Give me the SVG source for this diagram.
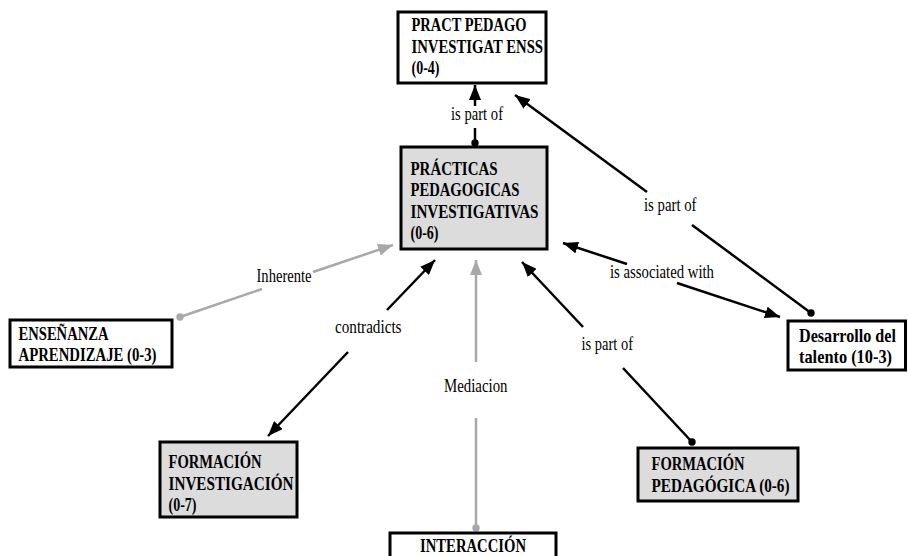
<svg xmlns="http://www.w3.org/2000/svg" width="908" height="556" viewBox="0 0 908 556">
  <style>
    .box { stroke: #000; stroke-width: 3; }
    .plain { fill: #ffffff; }
    .shade { fill: #dcdcdc; }
    .nt { font-weight: bold; font-size: 19px; fill: #000; }
    .lt { font-size: 18px; fill: #000; }
    .blk { stroke: #000; stroke-width: 2.5; fill: none; }
    .gry { stroke: #a8a8a8; stroke-width: 2.5; fill: none; }
  </style>
  <defs>
    <marker id="arrowBlk" markerUnits="userSpaceOnUse" markerWidth="16" markerHeight="12" viewBox="0 0 16 12" refX="15" refY="6" orient="auto">
      <path d="M0,0 L15,6 L0,12 Z" fill="#000"/>
    </marker>
    <marker id="arrowGry" markerUnits="userSpaceOnUse" markerWidth="16" markerHeight="12" viewBox="0 0 16 12" refX="15" refY="6" orient="auto">
      <path d="M0,0 L15,6 L0,12 Z" fill="#a8a8a8"/>
    </marker>
    <marker id="dotBlk" markerUnits="userSpaceOnUse" markerWidth="8" markerHeight="8" viewBox="0 0 8 8" refX="4" refY="4">
      <circle cx="4" cy="4" r="3.7" fill="#000"/>
    </marker>
    <marker id="dotGry" markerUnits="userSpaceOnUse" markerWidth="8" markerHeight="8" viewBox="0 0 8 8" refX="4" refY="4">
      <circle cx="4" cy="4" r="3.7" fill="#a8a8a8"/>
    </marker>
  </defs>
  <rect width="908" height="556" fill="#ffffff"/>

  <g font-family="'Liberation Serif', 'Times New Roman', serif">
  <!-- connectors -->
  <g id="connectors">
    <!-- PRÁCTICAS is part of PRACT PEDAGO -->
    <line class="blk" x1="475" y1="143" x2="475" y2="128" marker-start="url(#dotBlk)"/>
    <line class="blk" x1="475" y1="106" x2="475" y2="85" marker-end="url(#arrowBlk)"/>
    <text class="lt" x="451" y="120" textLength="52" lengthAdjust="spacingAndGlyphs">is part of</text>

    <!-- Desarrollo is part of PRACT PEDAGO -->
    <line class="blk" x1="811" y1="313" x2="692" y2="225" marker-start="url(#dotBlk)"/>
    <line class="blk" x1="647" y1="192" x2="515" y2="95" marker-end="url(#arrowBlk)"/>
    <text class="lt" x="644" y="210.5" textLength="52.5" lengthAdjust="spacingAndGlyphs">is part of</text>

    <!-- is associated with (both ways) -->
    <line class="blk" x1="627" y1="264" x2="563" y2="243" marker-end="url(#arrowBlk)"/>
    <line class="blk" x1="677" y1="283" x2="780" y2="317" marker-end="url(#arrowBlk)"/>
    <text class="lt" x="610" y="278" textLength="104" lengthAdjust="spacingAndGlyphs">is associated with</text>

    <!-- FORMACIÓN PEDAGÓGICA is part of PRÁCTICAS -->
    <line class="blk" x1="692" y1="442" x2="623" y2="368" marker-start="url(#dotBlk)"/>
    <line class="blk" x1="583" y1="327" x2="522" y2="262" marker-end="url(#arrowBlk)"/>
    <text class="lt" x="581.5" y="350" textLength="51.5" lengthAdjust="spacingAndGlyphs">is part of</text>

    <!-- INTERACCIÓN Mediacion -->
    <line class="gry" x1="476" y1="528" x2="476" y2="418" marker-start="url(#dotGry)"/>
    <line class="gry" x1="476" y1="362" x2="476" y2="260" marker-end="url(#arrowGry)"/>
    <text class="lt" x="444" y="391.5" textLength="63.5" lengthAdjust="spacingAndGlyphs">Mediacion</text>

    <!-- contradicts -->
    <line class="blk" x1="387" y1="310" x2="435" y2="260" marker-end="url(#arrowBlk)"/>
    <line class="blk" x1="348" y1="352" x2="268" y2="436" marker-end="url(#arrowBlk)"/>
    <text class="lt" x="335" y="333" textLength="66.5" lengthAdjust="spacingAndGlyphs">contradicts</text>

    <!-- ENSEÑANZA Inherente -->
    <line class="gry" x1="180" y1="317" x2="262" y2="289" marker-start="url(#dotGry)"/>
    <line class="gry" x1="313" y1="272" x2="393" y2="245" marker-end="url(#arrowGry)"/>
    <text class="lt" x="256.5" y="281.5" textLength="55" lengthAdjust="spacingAndGlyphs">Inherente</text>
  </g>

  <!-- nodes -->
  <g id="pract-pedago">
    <rect class="box plain" x="398" y="12" width="148" height="71"/>
    <text class="nt" x="411.5" y="31" textLength="115" lengthAdjust="spacingAndGlyphs">PRACT PEDAGO</text>
    <text class="nt" x="411.5" y="52.5" textLength="131.5" lengthAdjust="spacingAndGlyphs">INVESTIGAT ENSS</text>
    <text class="nt" x="411.5" y="74" textLength="28" lengthAdjust="spacingAndGlyphs">(0-4)</text>
  </g>

  <g id="practicas">
    <rect class="box shade" x="401" y="147" width="146" height="102"/>
    <text class="nt" x="410.5" y="175" textLength="87" lengthAdjust="spacingAndGlyphs">PRÁCTICAS</text>
    <text class="nt" x="410.5" y="196.3" textLength="109" lengthAdjust="spacingAndGlyphs">PEDAGOGICAS</text>
    <text class="nt" x="410.5" y="217.6" textLength="128" lengthAdjust="spacingAndGlyphs">INVESTIGATIVAS</text>
    <text class="nt" x="410.5" y="238.9" textLength="28" lengthAdjust="spacingAndGlyphs">(0-6)</text>
  </g>

  <g id="ensenanza">
    <rect class="box plain" x="10" y="320" width="162" height="47"/>
    <text class="nt" x="18.5" y="340" textLength="90" lengthAdjust="spacingAndGlyphs">ENSEÑANZA</text>
    <text class="nt" x="18.5" y="361" textLength="138" lengthAdjust="spacingAndGlyphs">APRENDIZAJE (0-3)</text>
  </g>

  <g id="desarrollo">
    <rect class="box plain" x="788" y="321" width="117.5" height="49"/>
    <text class="nt" x="799" y="341.5" font-size="16.5" textLength="97" lengthAdjust="spacingAndGlyphs">Desarrollo del</text>
    <text class="nt" x="799" y="363" font-size="16.5" textLength="93" lengthAdjust="spacingAndGlyphs">talento (10-3)</text>
  </g>

  <g id="formacion-investigacion">
    <rect class="box shade" x="160" y="442" width="137" height="75"/>
    <text class="nt" x="168.5" y="468" textLength="93" lengthAdjust="spacingAndGlyphs">FORMACIÓN</text>
    <text class="nt" x="168.5" y="489.5" textLength="125" lengthAdjust="spacingAndGlyphs">INVESTIGACIÓN</text>
    <text class="nt" x="168.5" y="511" textLength="28" lengthAdjust="spacingAndGlyphs">(0-7)</text>
  </g>

  <g id="formacion-pedagogica">
    <rect class="box shade" x="638" y="448" width="160" height="53"/>
    <text class="nt" x="651.5" y="470" textLength="93" lengthAdjust="spacingAndGlyphs">FORMACIÓN</text>
    <text class="nt" x="651.5" y="491.5" textLength="138" lengthAdjust="spacingAndGlyphs">PEDAGÓGICA (0-6)</text>
  </g>

  <g id="interaccion">
    <rect class="box plain" x="390" y="533" width="166" height="40"/>
    <text class="nt" x="420" y="551.5" textLength="106" lengthAdjust="spacingAndGlyphs">INTERACCIÓN</text>
  </g>
  </g>
</svg>
